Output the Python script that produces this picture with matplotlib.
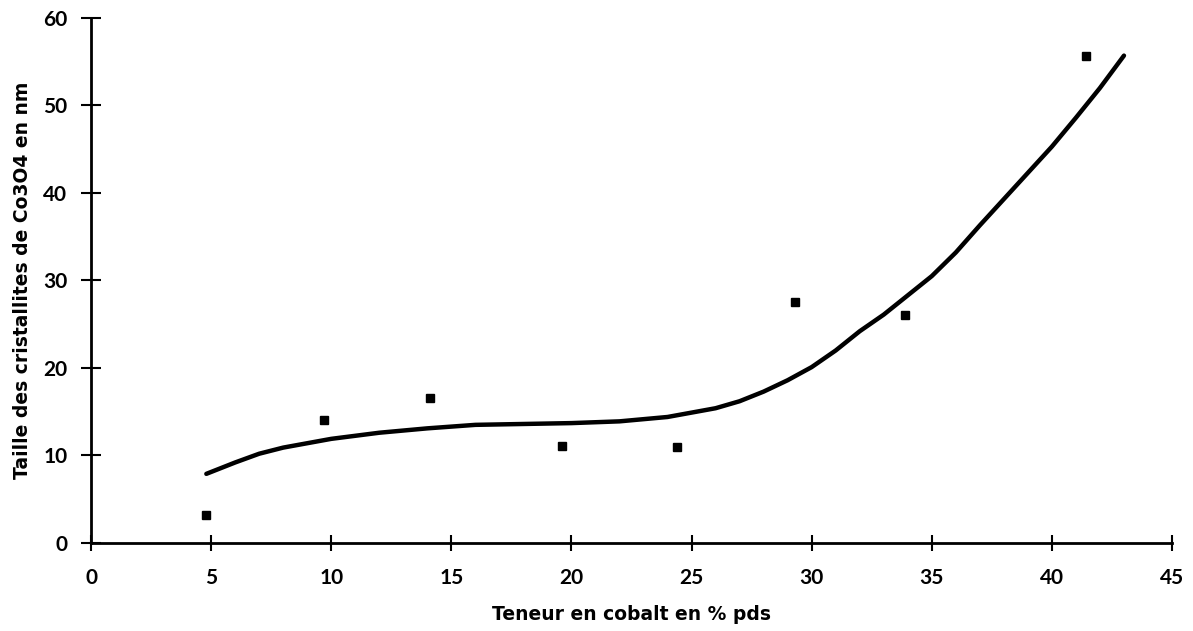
import matplotlib
matplotlib.use("Agg")
import matplotlib.pyplot as plt

# Measured points
pts_x = [4.8, 9.7, 14.1, 19.6, 24.4, 29.3, 33.9, 41.4]
pts_y = [3.2, 14.1, 16.6, 11.1, 11.0, 27.5, 26.1, 55.7]

# Trend curve
curve_x = [4.8, 6, 7, 8, 9, 10, 12, 14, 16, 18, 20, 22, 24, 25, 26, 27, 28, 29, 30,
           31, 32, 33, 34, 35, 36, 37, 38, 39, 40, 41, 42, 43]
curve_y = [7.9, 9.2, 10.2, 10.9, 11.4, 11.9, 12.6, 13.1, 13.5, 13.6, 13.7, 13.9, 14.4,
           14.9, 15.4, 16.2, 17.3, 18.6, 20.1, 22.0, 24.2, 26.1, 28.3, 30.5, 33.2, 36.3,
           39.3, 42.3, 45.3, 48.6, 52.0, 55.7]

x_ticks = [0, 5, 10, 15, 20, 25, 30, 35, 40, 45]
y_ticks = [0, 10, 20, 30, 40, 50, 60]

plt.rcParams['font.family'] = ['Lato', 'DejaVu Sans']

fig = plt.figure(figsize=(11.93, 6.31), dpi=100)
ax = fig.add_axes([0.0763, 0.1395, 0.9061, 0.832])

ax.plot(curve_x, curve_y, color='black', linewidth=3.2, solid_capstyle='round', zorder=2)
ax.plot(pts_x, pts_y, linestyle='none', marker='s', markersize=6, color='black', zorder=3)

ax.set_xlim(0, 45)
ax.set_ylim(0, 60)
ax.set_xticks(x_ticks)
ax.set_yticks(y_ticks)
ax.set_xticklabels([str(v) for v in x_ticks], fontweight='bold')
ax.set_yticklabels([str(v) for v in y_ticks], fontweight='bold')

for s in ['top', 'right']:
    ax.spines[s].set_visible(False)
for s in ['left', 'bottom']:
    ax.spines[s].set_linewidth(2)
    ax.spines[s].set_color('black')

ax.tick_params(axis='x', direction='inout', length=12, width=1.5, pad=12, labelsize=15)
ax.tick_params(axis='y', direction='inout', length=14, width=1.5, pad=10, labelsize=15)

ax.set_xlabel('Teneur en cobalt en % pds', fontsize=13.5, fontweight='bold',
              family=['DejaVu Sans'], labelpad=12)
ax.set_ylabel('Taille des cristallites de Co3O4 en nm', fontsize=13.5, fontweight='bold',
              family=['DejaVu Sans'], labelpad=8)

for sp in ax.spines.values():
    sp.set_clip_on(False)

fig.savefig('out.png', dpi=100)
